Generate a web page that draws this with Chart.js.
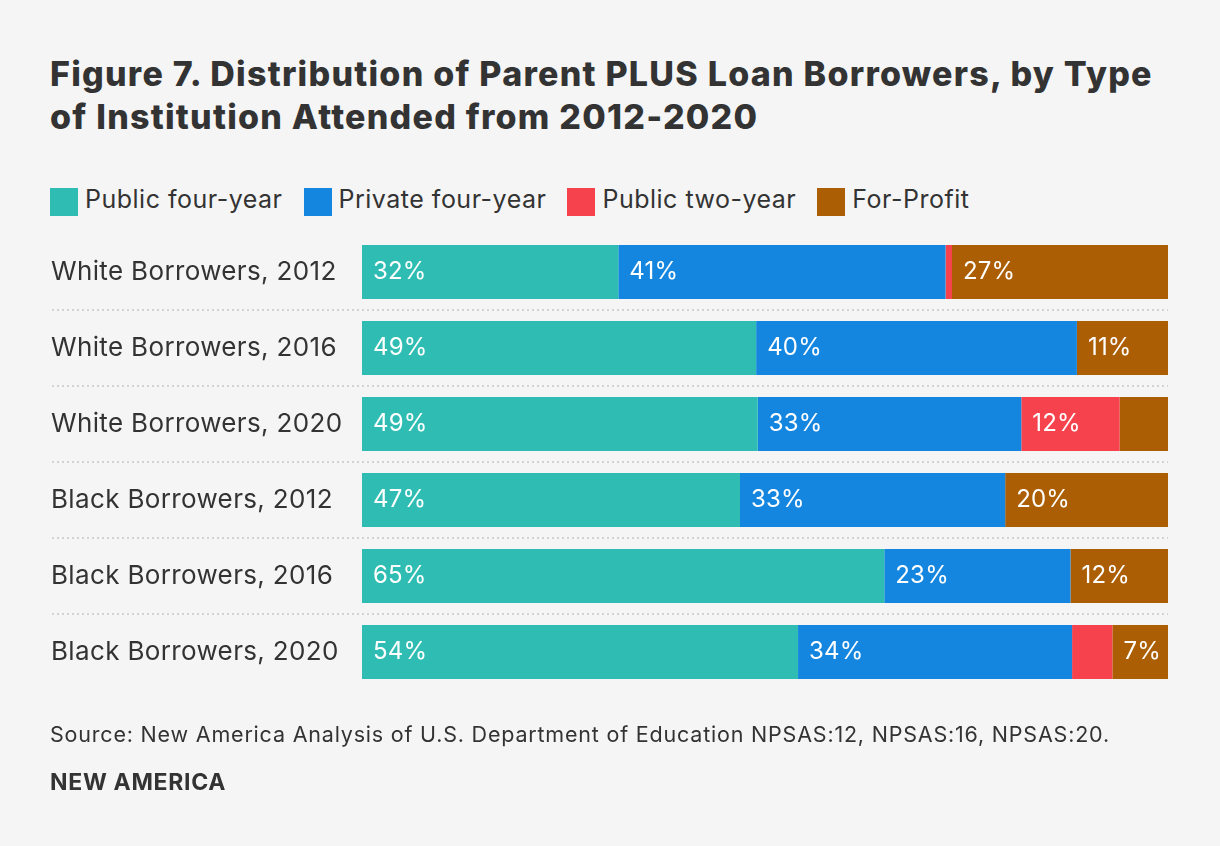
<!DOCTYPE html>
<html>
<head>
<meta charset="utf-8">
<script src="https://cdn.jsdelivr.net/npm/chart.js@4"></script>
<style>
  html, body { margin: 0; padding: 0; background: #f5f5f5; }
  body { width: 1220px; height: 846px; position: relative; overflow: hidden; font-family: Inter, Lato, sans-serif; color: #333; }
  #title { position: absolute; left: 50px; top: 52px; font-weight: 800; font-size: 34px; line-height: 43px; letter-spacing: 1.25px; color: #333; white-space: nowrap; }
  #legend { position: absolute; left: 50px; top: 188px; display: flex; align-items: flex-start; font-size: 25px; line-height: 28px; letter-spacing: 0.5px; white-space: nowrap; }
  .li { display: flex; align-items: flex-start; margin-right: 21px; }
  .sw { width: 28px; height: 28px; margin-right: 7px; }
  .li span { position: relative; top: -3px; }
  #source { position: absolute; left: 50px; top: 721px; font-size: 21.5px; line-height: 26px; letter-spacing: 0.8px; white-space: nowrap; }
  #brand { position: absolute; left: 50px; top: 768px; font-size: 23px; line-height: 28px; font-weight: 700; letter-spacing: 0.7px; }
  #wrap { position: absolute; left: 0; top: 0; width: 1220px; height: 846px; }
</style>
</head>
<body>
<div id="title">Figure 7. Distribution of Parent PLUS Loan Borrowers, by Type<br>of Institution Attended from 2012-2020</div>
<div id="legend"></div>
<div id="wrap"><canvas id="c"></canvas></div>
<div id="source">Source: New America Analysis of U.S. Department of Education NPSAS:12, NPSAS:16, NPSAS:20.</div>
<div id="brand">NEW AMERICA</div>
<script>
const categories = ["White Borrowers, 2012", "White Borrowers, 2016", "White Borrowers, 2020", "Black Borrowers, 2012", "Black Borrowers, 2016", "Black Borrowers, 2020"];
const seriesNames = ["Public four-year", "Private four-year", "Public two-year", "For-Profit"];
const publicFourYear  = [31.8, 48.9, 49.1, 46.9, 64.8, 54.1];
const privateFourYear = [40.6, 39.8, 32.7, 32.9, 23.1, 34.0];
const publicTwoYear   = [0.8, 0, 12.2, 0, 0, 5.0];
const forProfit       = [26.8, 11.3, 6.0, 20.2, 12.1, 6.9];
const colors = ["#2fbdb3", "#1586e0", "#f5424c", "#ab5e03"];
const seriesValues = [publicFourYear, privateFourYear, publicTwoYear, forProfit];
const FONT = 'Inter, Lato, sans-serif';

const legendEl = document.getElementById('legend');
seriesNames.forEach((n, i) => {
  const li = document.createElement('div'); li.className = 'li';
  const sw = document.createElement('div'); sw.className = 'sw'; sw.style.background = colors[i];
  const t = document.createElement('span'); t.textContent = n;
  li.appendChild(sw); li.appendChild(t); legendEl.appendChild(li);
});

const spacing = {
  id: 'spacing',
  beforeDraw(chart) { chart.ctx.letterSpacing = '0.35px'; }
};

const separators = {
  id: 'separators',
  beforeDatasetsDraw(chart) {
    const y = chart.scales.y, ctx = chart.ctx, area = chart.chartArea;
    ctx.save();
    ctx.strokeStyle = '#d2d2d2';
    ctx.lineWidth = 2;
    ctx.setLineDash([2, 3]);
    for (let i = 0; i < categories.length - 1; i++) {
      const py = Math.round((y.getPixelForValue(i) + y.getPixelForValue(i + 1)) / 2);
      ctx.beginPath(); ctx.moveTo(52, py); ctx.lineTo(area.right, py); ctx.stroke();
    }
    ctx.restore();
  }
};

const barLabels = {
  id: 'barLabels',
  afterDatasetsDraw(chart) {
    const ctx = chart.ctx;
    ctx.save();
    ctx.fillStyle = '#ffffff';
    ctx.font = '24px ' + FONT;
    ctx.letterSpacing = '0.2px';
    ctx.textBaseline = 'middle';
    ctx.textAlign = 'left';
    chart.data.datasets.forEach((ds, di) => {
      const meta = chart.getDatasetMeta(di);
      meta.data.forEach((el, i) => {
        const v = ds.data[i];
        if (v >= 6.5) {
          const left = Math.min(el.base, el.x);
          ctx.fillText(Math.round(v) + '%', left + 11, el.y);
        }
      });
    });
    ctx.restore();
  }
};

new Chart(document.getElementById('c'), {
  type: 'bar',
  data: {
    labels: categories,
    datasets: seriesNames.map((n, i) => ({
      label: n,
      data: seriesValues[i],
      backgroundColor: colors[i],
      borderWidth: 0,
      categoryPercentage: 1,
      barPercentage: 0.71
    }))
  },
  options: {
    indexAxis: 'y',
    responsive: true,
    maintainAspectRatio: false,
    animation: false,
    layout: { padding: { left: 51, right: 52, top: 234, bottom: 156 } },
    plugins: { legend: { display: false }, tooltip: { enabled: false } },
    scales: {
      x: { stacked: true, min: 0, max: 100, display: false },
      y: {
        stacked: true,
        grid: { display: false },
        border: { display: false },
        afterFit(scale) { scale.width = 311; },
        ticks: {
          crossAlign: 'far',
          color: '#333',
          font: { family: FONT, size: 26 }
        }
      }
    }
  },
  plugins: [spacing, separators, barLabels]
});
</script>
</body>
</html>
